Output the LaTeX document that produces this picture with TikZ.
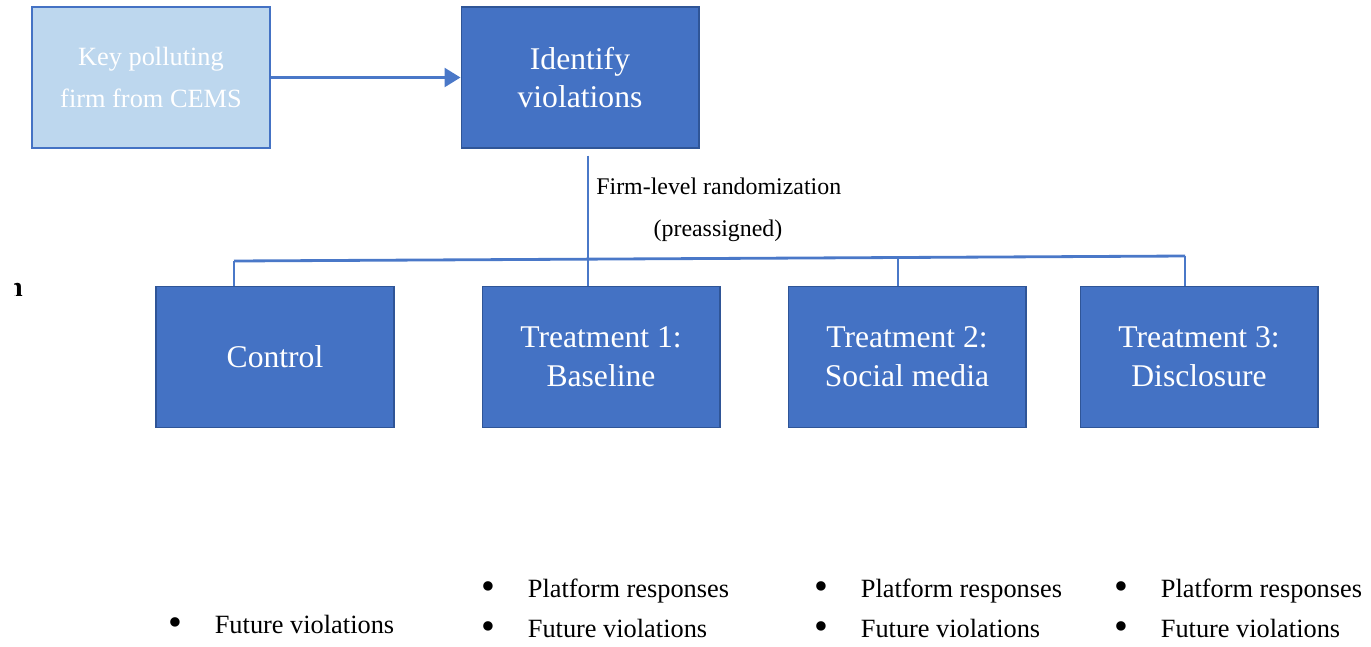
\documentclass[tikz,border=0pt]{standalone}
\usepackage{fontspec}
\setmainfont{Liberation Serif}
\usepackage{tikz}
\usetikzlibrary{arrows.meta,calc}
\definecolor{boxblue}{HTML}{4472C4}
\definecolor{lightblue}{HTML}{BDD7EE}
\definecolor{edgeblue}{HTML}{2F5597}
\definecolor{lineblue}{HTML}{4A78C8}
\newcommand{\bul}{\makebox[0.92cm][l]{\raisebox{-0.08em}{\scalebox{1.5}{\textbullet}}}}

\begin{document}
\begin{tikzpicture}[x=0.02cm,y=-0.02cm,
    stage/.style={draw=edgeblue,line width=0.6pt,fill=boxblue,text=white,
        minimum width=4.76cm,minimum height=2.82cm,align=center,
        font=\fontsize{18}{22}\selectfont},
    source/.style={stage,fill=lightblue,draw=boxblue,font=\fontsize{15}{24}\selectfont},
    link/.style={draw=lineblue,line width=1.1pt},
    note/.style={inner sep=0pt,font=\fontsize{13.6}{16}\selectfont},
    item/.style={anchor=base west,inner sep=0pt,font=\fontsize{15}{18}\selectfont}]
        \useasboundingbox (0,0) rectangle (1371,646);
        % top row
        \node[source] (cems) at (151,77.5) {Key polluting\\firm from CEMS};
        \node[stage] (ident) at (580,77.5) {Identify\\violations};
        \draw[link,line width=1.5pt,-{Triangle[length=0.32cm,width=0.38cm]}] (cems) -- (ident);
        % arms
        \node[stage] (ctrl) at (275,357) {Control};
        \node[stage] (t1) at (601,357) {Treatment 1:\\Baseline};
        \node[stage] (t2) at (907,357) {Treatment 2:\\Social media};
        \node[stage] (t3) at (1199,357) {Treatment 3:\\Disclosure};
        % randomization split
        \coordinate (b0) at (234,261);
        \coordinate (b1) at (588,259);
        \coordinate (b2) at (898,257.5);
        \coordinate (b3) at (1185,256);
        \draw[link] ($(ident.south -| b1)+(0,7)$) -- (b1);
        \draw[link,line width=1.6pt] (b0) -- (b3);
        \foreach \b/\t in {b0/ctrl,b1/t1,b2/t2,b3/t3}
            \draw[link] (\b) -- (\b |- \t.north);
        \node[note,anchor=base west] (rand) at (596,194) {Firm-level randomization};
        \node[note,anchor=base] (pre) at (718,236) {(preassigned)};
        % outcomes
        \node[item] (o0) at (168.5,633) {\bul Future violations};
        \foreach \x/\n in {481.5/1,814.5/2,1114.5/3}{
            \node[item] (p\n) at (\x,597) {\bul Platform responses};
            \node[item] (f\n) at (\x,637) {\bul Future violations};
        }
        % cut-off glyph at the left margin
        \begin{scope}
            \clip (14,276) rectangle (26,300);
            \node[inner sep=0pt,anchor=base,font=\fontsize{16}{16}\selectfont\bfseries] (cut) at (15,296) {n};
        \end{scope}
    \end{tikzpicture}
\end{document}
